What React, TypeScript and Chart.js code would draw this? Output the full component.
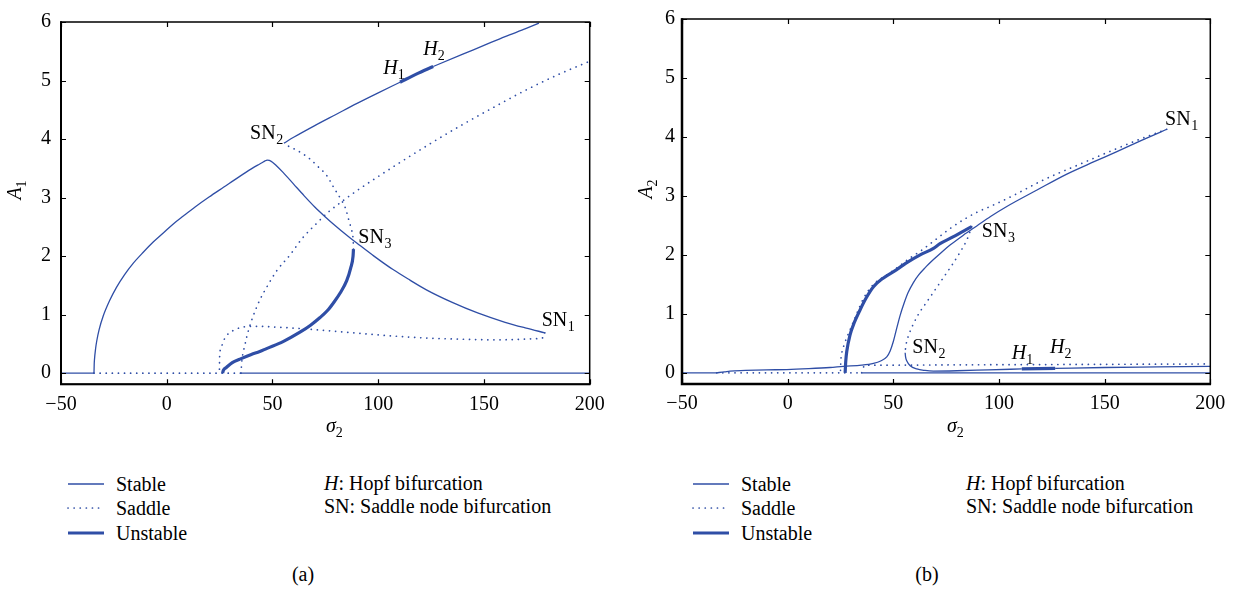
import React, { useEffect, useRef } from "react";
import { Chart, registerables } from "chart.js";

Chart.register(...registerables);

const COLOR = "#2f4ea6";
const FONT = '"Liberation Serif", "Times New Roman", serif';

// ---------- axes ----------
const xTicks = [-50, 0, 50, 100, 150, 200];
const yTicks = [0, 1, 2, 3, 4, 5, 6];
const xMin = -50;
const xMax = 200;
const yMin = -0.19;
const yMax = 6;

// ---------- panel (a): A1 vs sigma2 ----------
const a_trivStable1 = [[-50, 0], [-34.4, 0]];
const a_trivSaddle = [[-34.4, 0], [35.1, 0]];
const a_trivStable2 = [[35.1, 0], [200, 0]];
const a_mainStable = [
  [-34.4, 0], [-34.3, 0.15], [-34.2, 0.22], [-33.6, 0.43], [-33.1, 0.55], [-32, 0.74], [-30, 0.98],
  [-27, 1.24], [-23.7, 1.47], [-20, 1.68], [-15.8, 1.88], [-11, 2.07], [-6.4, 2.24], [-1.5, 2.4],
  [3.1, 2.55], [8, 2.69], [13.4, 2.84], [20, 3.01], [27, 3.18], [34, 3.35], [40, 3.49], [43, 3.555],
  [45, 3.595], [46.5, 3.628], [47.5, 3.64], [48.5, 3.635], [50, 3.605], [52, 3.54], [55, 3.43],
  [60, 3.23], [65, 3.03], [70, 2.84], [75, 2.67], [80, 2.51], [85, 2.36], [90, 2.22], [98, 2.0],
  [107, 1.77], [115, 1.59], [123, 1.42], [135, 1.21], [147, 1.03], [160, 0.87], [170, 0.77],
  [178.8, 0.69],
];
const a_loopSaddle = [
  [178.8, 0.69], [178.6, 0.62], [175, 0.59], [165, 0.575], [154.4, 0.57], [140, 0.58], [122.9, 0.6],
  [105, 0.64], [91.4, 0.68], [75, 0.73], [60, 0.77], [50, 0.79], [44, 0.8], [39.4, 0.8], [35, 0.78],
  [31.5, 0.73], [28.5, 0.65], [26.7, 0.54], [25.6, 0.42], [25, 0.27], [24.9, 0],
];
const a_unstable = [
  [26.4, 0], [26.8, 0.05], [28.3, 0.1], [31, 0.18], [34.6, 0.24], [40, 0.32], [44, 0.37], [47.2, 0.42],
  [55, 0.54], [63, 0.7], [68, 0.82], [72.5, 0.95], [76, 1.07], [78.8, 1.2], [82, 1.37], [85.1, 1.58],
  [87, 1.8], [88.1, 2.0], [88.3, 2.12],
];
const a_sn3sn2Saddle = [
  [88.3, 2.12], [88.1, 2.3], [87.4, 2.45], [86.6, 2.55], [84.3, 2.84], [82.7, 2.95], [79, 3.17],
  [75.6, 3.38], [71.5, 3.53], [67.7, 3.66], [62, 3.8], [58, 3.87], [55.4, 3.92],
];
const a_upperStable1 = [
  [55.4, 3.93], [60, 4.03], [70, 4.23], [80, 4.42], [90, 4.61], [100, 4.79], [110.3, 4.97],
];
const a_upperUnstable = [[110.3, 4.97], [118, 5.11], [126, 5.24]];
const a_upperStable2 = [[126, 5.24], [140, 5.45], [150, 5.6], [160, 5.75], [170, 5.89], [176, 5.98]];
const a_risingSaddle = [
  [35.1, 0], [35.5, 0.2], [37, 0.49], [38.8, 0.75], [40.9, 0.98], [44, 1.25], [47.3, 1.47], [52, 1.75],
  [58.3, 2.02], [64, 2.3], [70.9, 2.56], [76, 2.74], [82.7, 2.93], [90, 3.12], [100, 3.36],
  [110.3, 3.6], [125, 3.93], [140, 4.25], [155, 4.55], [170, 4.84], [185, 5.1], [200, 5.33],
];

// ---------- panel (b): A2 vs sigma2 ----------
const b_trivStable1 = [[-50, 0], [-33.6, 0]];
const b_trivSaddle = [[-33.6, 0], [35, 0]];
const b_trivStable2 = [[35, 0], [200, 0]];
const b_mainStable = [
  [-33.6, 0], [-30, 0.015], [-27.3, 0.03], [-20, 0.04], [-10, 0.05], [-0.4, 0.055], [10, 0.07],
  [20, 0.09], [26.4, 0.11], [35, 0.13], [40.6, 0.16], [44, 0.2], [46.9, 0.27], [48.5, 0.37],
  [50, 0.53], [51.5, 0.74], [53.2, 0.97], [55, 1.17], [57, 1.36], [59.5, 1.53], [62, 1.66],
  [65, 1.78], [69, 1.92], [73, 2.05], [77, 2.17], [83, 2.33], [89.5, 2.49], [96, 2.65],
  [103.7, 2.82], [118, 3.1], [132.1, 3.37], [145, 3.58], [155.8, 3.75], [168, 3.95], [179.4, 4.13],
];
const b_loopSaddle = [
  [179.4, 4.13], [168, 3.98], [154.2, 3.78], [138.4, 3.54], [121, 3.27], [105.3, 2.98], [95.8, 2.82],
  [90, 2.73], [84.8, 2.63], [77, 2.45], [69, 2.23], [62.7, 2.06], [58, 1.95], [53.2, 1.82], [47, 1.66],
  [40.6, 1.5], [36, 1.27], [33, 1.03], [30, 0.77], [28, 0.6], [26.5, 0.45], [25.6, 0.33], [25.1, 0.15],
  [25, 0],
];
const b_unstable = [
  [27.2, 0], [27.5, 0.2], [28, 0.37], [29.5, 0.64], [31.5, 0.85], [34.3, 1.07], [37, 1.26], [40.6, 1.46],
  [45, 1.6], [51.6, 1.75], [56, 1.86], [62.7, 2.0], [69, 2.11], [72.1, 2.19], [78, 2.3], [83, 2.4],
  [87.1, 2.48],
];
const b_sn3sn2Saddle = [
  [87.1, 2.48], [85, 2.27], [82, 2.07], [78, 1.84], [74, 1.63], [70, 1.42], [65.8, 1.2], [62, 1.0],
  [59.5, 0.83], [57.7, 0.68], [56.6, 0.56], [55.9, 0.45], [55.6, 0.34],
];
const b_upperStable1 = [
  [55.6, 0.34], [55.8, 0.27], [56.4, 0.2], [58, 0.12], [61.1, 0.065], [65, 0.04], [69, 0.03],
  [80, 0.035], [95, 0.05], [110.8, 0.065],
];
const b_upperUnstable = [[110.8, 0.065], [126.6, 0.075]];
const b_upperStable2 = [[126.6, 0.075], [150, 0.09], [175, 0.1], [200, 0.11]];
const b_risingSaddle = [
  [35, 0], [35.5, 0.06], [36.6, 0.13], [50, 0.13], [80, 0.135], [120, 0.14], [160, 0.145], [200, 0.15],
];

// ---------- annotation labels (left x, baseline y in data units) ----------
const a_labels = [
  { main: "SN", sub: "2", x: 39.4, y: 4.0, it: false },
  { main: "H", sub: "1", x: 102.4, y: 5.11, it: true },
  { main: "H", sub: "2", x: 121.3, y: 5.43, it: true },
  { main: "SN", sub: "3", x: 90.6, y: 2.23, it: false },
  { main: "SN", sub: "1", x: 177.3, y: 0.8, it: false },
];
const b_labels = [
  { main: "SN", sub: "1", x: 178.6, y: 4.21, it: false },
  { main: "SN", sub: "3", x: 91.9, y: 2.3, it: false },
  { main: "SN", sub: "2", x: 59.0, y: 0.34, it: false },
  { main: "H", sub: "1", x: 106.1, y: 0.23, it: true },
  { main: "H", sub: "2", x: 124.2, y: 0.34, it: true },
];

type Kind = "stable" | "saddle" | "unstable";
const a_segments: [number[][], Kind][] = [
  [a_trivStable1, "stable"], [a_trivSaddle, "saddle"], [a_trivStable2, "stable"],
  [a_mainStable, "stable"], [a_loopSaddle, "saddle"], [a_unstable, "unstable"],
  [a_sn3sn2Saddle, "saddle"], [a_upperStable1, "stable"], [a_upperUnstable, "unstable"],
  [a_upperStable2, "stable"], [a_risingSaddle, "saddle"],
];
const b_segments: [number[][], Kind][] = [
  [b_trivStable1, "stable"], [b_trivSaddle, "saddle"], [b_trivStable2, "stable"],
  [b_mainStable, "stable"], [b_loopSaddle, "saddle"], [b_unstable, "unstable"],
  [b_sn3sn2Saddle, "saddle"], [b_upperStable1, "stable"], [b_upperUnstable, "unstable"],
  [b_upperStable2, "stable"], [b_risingSaddle, "saddle"],
];

function makeDataset(pts: number[][], kind: Kind) {
  const base: any = {
    data: pts.map(([x, y]) => ({ x, y })),
    borderColor: COLOR,
    backgroundColor: COLOR,
    showLine: true,
    pointRadius: 0,
    pointHoverRadius: 0,
    fill: false,
    cubicInterpolationMode: "monotone",
    borderJoinStyle: "round",
  };
  if (kind === "stable") return { ...base, borderWidth: 1.3 };
  if (kind === "unstable") return { ...base, borderWidth: 3.2 };
  return { ...base, borderWidth: 1.7, borderDash: [0.1, 6], borderCapStyle: "round" };
}

const fmt = (v: number) => (v < 0 ? "\u2212" + Math.abs(v) : String(v));

function drawSub(ctx: CanvasRenderingContext2D, main: string, sub: string, x: number, y: number, it: boolean) {
  ctx.font = (it ? "italic " : "") + "20px " + FONT;
  ctx.textAlign = "left";
  ctx.textBaseline = "alphabetic";
  ctx.fillText(main, x, y);
  const w = ctx.measureText(main).width;
  ctx.font = "14px " + FONT;
  ctx.fillText(sub, x + w + (it ? 0 : 0.5), y + 5);
}

type Geom = {
  left: number; width: number; height: number;
  padTop: number; padRight: number; yAxisWidth: number; xAxisHeight: number;
  yTickPad: number; xTickPad: number;
  yTitle: string; yTitleX: number; yTitleY: number;
  xTitleX: number; xTitleY: number;
  thick: number;
};

function Panel({ segments, labels, g }: { segments: [number[][], Kind][]; labels: any[]; g: Geom }) {
  const ref = useRef<HTMLCanvasElement | null>(null);
  useEffect(() => {
    if (!ref.current) return;
    const frame = {
      id: "frame",
      afterDraw(chart: any) {
        const ctx: CanvasRenderingContext2D = chart.ctx;
        const { left, right, top, bottom } = chart.chartArea;
        const xs = chart.scales.x;
        const ys = chart.scales.y;
        ctx.save();
        ctx.fillStyle = "#000";
        ctx.strokeStyle = "#000";
        // inner ticks
        ctx.lineWidth = 1.2;
        ctx.beginPath();
        for (const v of xTicks) {
          const px = Math.round(xs.getPixelForValue(v)) + 0.5;
          ctx.moveTo(px, bottom);
          ctx.lineTo(px, bottom - 5);
          ctx.moveTo(px, top);
          ctx.lineTo(px, top + 5);
        }
        for (const v of yTicks) {
          const py = Math.round(ys.getPixelForValue(v)) + 0.5;
          ctx.moveTo(left, py);
          ctx.lineTo(left + 5, py);
          ctx.moveTo(right, py);
          ctx.lineTo(right - 5, py);
        }
        ctx.stroke();
        // box
        ctx.lineWidth = 1.5;
        ctx.strokeRect(left, top, right - left, bottom - top);
        ctx.lineWidth = g.thick;
        ctx.beginPath();
        ctx.moveTo(left, top - 0.75);
        ctx.lineTo(left, bottom);
        ctx.lineTo(right + 0.75, bottom);
        ctx.stroke();
        // annotations
        for (const l of labels) {
          drawSub(ctx, l.main, l.sub, xs.getPixelForValue(l.x), ys.getPixelForValue(l.y), l.it);
        }
        // x title
        drawSub(ctx, "\u03c3", "2", g.xTitleX, g.xTitleY, true);
        // y title (rotated)
        ctx.translate(g.yTitleX, g.yTitleY);
        ctx.rotate(-Math.PI / 2);
        ctx.font = "italic 20px " + FONT;
        const wA = ctx.measureText("A").width;
        ctx.font = "14px " + FONT;
        const wS = ctx.measureText(g.yTitle).width;
        drawSub(ctx, "A", g.yTitle, -(wA + wS) / 2, 7, true);
        ctx.restore();
      },
    };
    const chart = new Chart(ref.current, {
      type: "scatter",
      data: { datasets: segments.map(([p, k]) => makeDataset(p, k)) },
      options: {
        animation: false,
        responsive: false,
        events: [],
        layout: { padding: { left: 0, top: g.padTop, right: g.padRight, bottom: 0 } },
        plugins: { legend: { display: false }, tooltip: { enabled: false } },
        scales: {
          x: {
            type: "linear",
            min: xMin,
            max: xMax,
            grid: { display: false, drawTicks: false, tickLength: 0 },
            border: { display: false },
            afterBuildTicks: (s: any) => {
              s.ticks = xTicks.map((v) => ({ value: v }));
            },
            afterFit: (s: any) => {
              s.height = g.xAxisHeight;
            },
            ticks: {
              font: { family: FONT, size: 20 },
              color: "#000",
              padding: g.xTickPad,
              maxRotation: 0,
              autoSkip: false,
              callback: (v: any) => fmt(Number(v)),
            },
          },
          y: {
            type: "linear",
            min: yMin,
            max: yMax,
            grid: { display: false, drawTicks: false, tickLength: 0 },
            border: { display: false },
            afterBuildTicks: (s: any) => {
              s.ticks = yTicks.map((v) => ({ value: v }));
            },
            afterFit: (s: any) => {
              s.width = g.yAxisWidth;
            },
            ticks: {
              font: { family: FONT, size: 20 },
              color: "#000",
              padding: g.yTickPad,
              autoSkip: false,
              callback: (v: any) => fmt(Number(v)),
            },
          },
        },
      } as any,
      plugins: [frame],
    } as any);
    return () => chart.destroy();
  }, []);
  return (
    <canvas
      ref={ref}
      width={g.width}
      height={g.height}
      style={{ position: "absolute", left: g.left, top: 0, width: g.width, height: g.height }}
    />
  );
}

function Sample({ x, y, kind }: { x: number; y: number; kind: Kind }) {
  const w = kind === "unstable" ? 3.2 : kind === "stable" ? 1.3 : 1.7;
  return (
    <svg style={{ position: "absolute", left: x, top: y - 5 }} width={38} height={10}>
      <line
        x1={1}
        y1={5}
        x2={37}
        y2={5}
        stroke={COLOR}
        strokeWidth={w}
        strokeLinecap={kind === "saddle" ? "round" : "butt"}
        strokeDasharray={kind === "saddle" ? "0.1 6" : undefined}
      />
    </svg>
  );
}

const textStyle: React.CSSProperties = {
  position: "absolute",
  fontFamily: FONT,
  fontSize: 20,
  lineHeight: "24px",
  color: "#000",
  whiteSpace: "nowrap",
};

function Legend({ sx, tx, hx, cx, cap }: { sx: number; tx: number; hx: number; cx: number; cap: string }) {
  const rows: [string, Kind, number][] = [
    ["Stable", "stable", 484],
    ["Saddle", "saddle", 508],
    ["Unstable", "unstable", 533],
  ];
  return (
    <>
      {rows.map(([t, k, y]) => (
        <React.Fragment key={t}>
          <Sample x={sx} y={y} kind={k} />
          <div style={{ ...textStyle, left: tx, top: y - 12 }}>{t}</div>
        </React.Fragment>
      ))}
      <div style={{ ...textStyle, left: hx, top: 483 - 12 }}>
        <i>H</i>: Hopf bifurcation
      </div>
      <div style={{ ...textStyle, left: hx, top: 506 - 12 }}>SN: Saddle node bifurcation</div>
      <div style={{ ...textStyle, left: cx - 40, width: 80, textAlign: "center", top: 562 }}>{cap}</div>
    </>
  );
}

const geomA: Geom = {
  left: 0, width: 620, height: 450,
  padTop: 9, padRight: 620 - 589.7, yAxisWidth: 61, xAxisHeight: 450 - 384.3,
  yTickPad: 10, xTickPad: 8,
  yTitle: "1", yTitleX: 14, yTitleY: 190,
  xTitleX: 326, xTitleY: 432,
  thick: 2,
};
const geomB: Geom = {
  left: 620, width: 623, height: 450,
  padTop: 6, padRight: 623 - 590.3, yAxisWidth: 62, xAxisHeight: 450 - 384,
  yTickPad: 7, xTickPad: 8,
  yTitle: "2", yTitleX: 25, yTitleY: 189,
  xTitleX: 327, xTitleY: 432,
  thick: 2.5,
};

export default function App() {
  return (
    <div
      style={{
        position: "fixed",
        left: 0,
        top: 0,
        width: 1243,
        height: 592,
        background: "#fff",
        overflow: "hidden",
      }}
    >
      <Panel segments={a_segments} labels={a_labels} g={geomA} />
      <Panel segments={b_segments} labels={b_labels} g={geomB} />
      <Legend sx={67} tx={116} hx={324} cx={303} cap="(a)" />
      <Legend sx={692} tx={741} hx={966} cx={927} cap="(b)" />
    </div>
  );
}
